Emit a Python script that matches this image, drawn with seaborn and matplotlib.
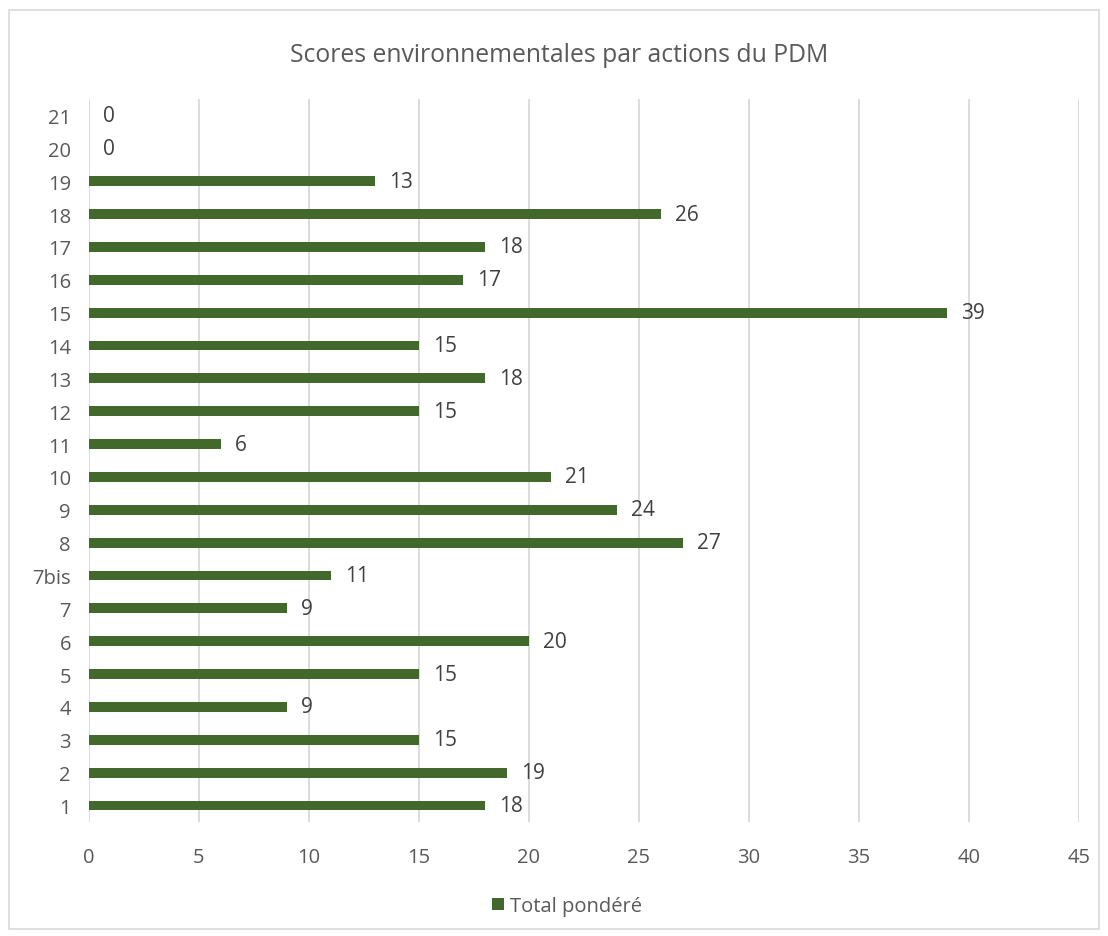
import matplotlib
matplotlib.use("Agg")
import matplotlib.pyplot as plt
import seaborn as sns
import pandas as pd
from matplotlib.patches import Rectangle, Patch

actions = ["1", "2", "3", "4", "5", "6", "7", "7bis", "8", "9", "10",
           "11", "12", "13", "14", "15", "16", "17", "18", "19", "20", "21"]
scores = [18, 19, 15, 9, 15, 20, 9, 11, 27, 24, 21,
          6, 15, 18, 15, 39, 17, 18, 26, 13, 0, 0]
series_name = "Total pondéré"
title = "Scores environnementales par actions du PDM"
x_ticks = [0, 5, 10, 15, 20, 25, 30, 35, 40, 45]

sns.set_theme(style="white")
plt.rcParams["font.family"] = ["Open Sans", "DejaVu Sans"]

bar_color = "#43682B"
text_color = "#595959"
grid_color = "#D9D9D9"

df = pd.DataFrame({"action": actions, "score": scores})
order = actions[::-1]

fig = plt.figure(figsize=(11.08, 9.37), dpi=100)
fig.patches.append(Rectangle((0.008, 0.008), 0.984, 0.98, transform=fig.transFigure,
                             fill=False, edgecolor="#D9D9D9", linewidth=1.2))

ax = fig.add_axes([89 / 1108, 1 - 823 / 937, (1079 - 89) / 1108, (823 - 100) / 937])
sns.barplot(data=df, x="score", y="action", order=order, color=bar_color,
            width=0.3, saturation=1, linewidth=0, ax=ax, zorder=3)

ax.set_xlim(0, 45)
ax.set_xticks(x_ticks)
ax.set_xlabel("")
ax.set_ylabel("")
ax.grid(axis="x", color=grid_color, linewidth=1.3, zorder=0)
ax.grid(axis="y", visible=False)
for s in ax.spines.values():
    s.set_visible(False)
ax.tick_params(axis="both", length=0, labelsize=14.5, colors=text_color)
ax.tick_params(axis="x", pad=18)
ax.tick_params(axis="y", pad=13)

for cont in ax.containers:
    ax.bar_label(cont, labels=[f"{v:.0f}" for v in cont.datavalues], padding=10,
                 fontsize=15, color="#404040")

fig.text(0.505, 1 - 55 / 937, title, ha="center", va="center",
         fontsize=17.8, color=text_color)

handle = Patch(facecolor=bar_color, edgecolor="none")
fig.legend([handle], [series_name], loc="center", bbox_to_anchor=(0.512, 1 - 907 / 937),
           frameon=False, fontsize=14.5, labelcolor=text_color,
           handlelength=0.6, handleheight=0.6, handletextpad=0.3)

fig.savefig("out.png", dpi=100, facecolor="white")
